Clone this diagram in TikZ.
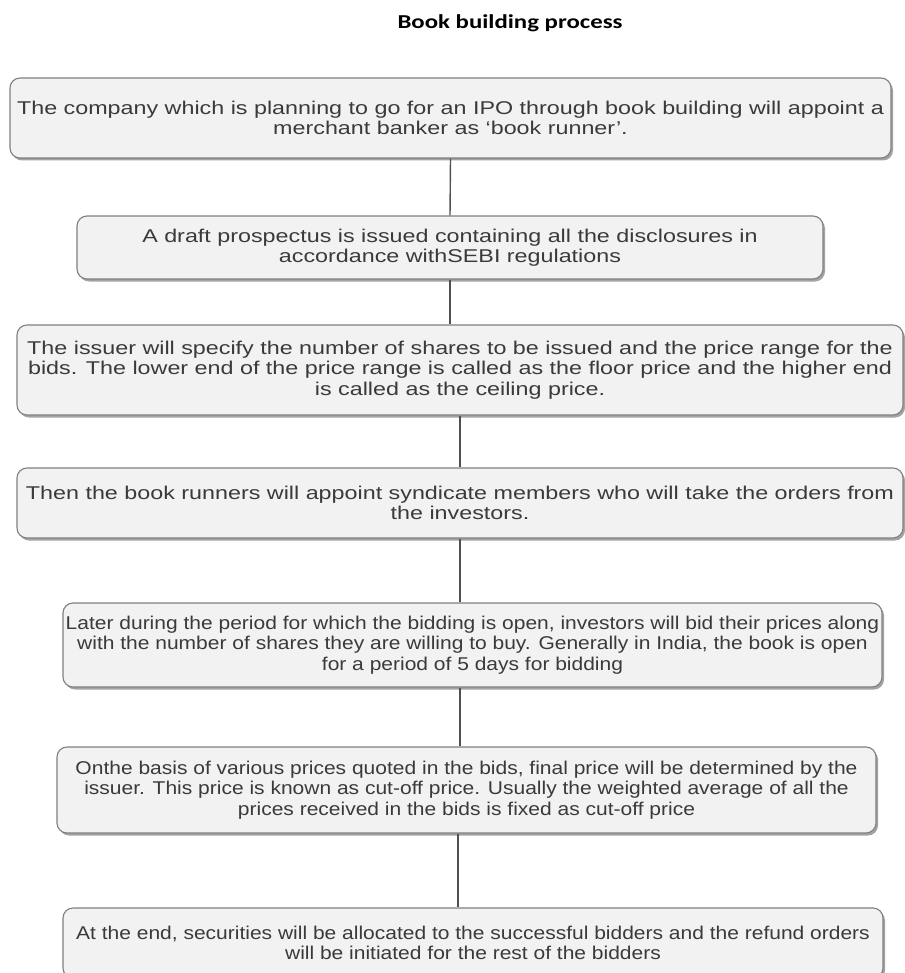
\documentclass[tikz,border=0pt]{standalone}
\usepackage{fontspec}
\setmainfont[FakeStretch=1.26]{Liberation Sans}
\newfontfamily\narrowfont[FakeStretch=1.135]{Liberation Sans}
\newfontfamily\titlefont[FakeStretch=1.26]{Carlito}
\usetikzlibrary{shadows}
\definecolor{boxfill}{HTML}{F2F2F2}
\definecolor{boxline}{HTML}{808080}
\definecolor{txt}{HTML}{3A3A3A}
\definecolor{conn}{HTML}{505050}
\tikzset{
  stepbox/.style={draw=boxline, line width=1.1pt, fill=boxfill, rounded corners=10pt,
    align=center, text=txt, inner sep=0pt,
    font=\fontsize{18.5}{20.5}\selectfont,
    drop shadow={shadow xshift=2pt, shadow yshift=-2.5pt, fill=black!45, opacity=0.8}},
  narrowbox/.style={stepbox, font=\narrowfont\fontsize{18.5}{20.5}\selectfont},
  link/.style={draw=conn, line width=1.4pt}
}
\begin{document}
\begin{tikzpicture}[x=1pt,y=-1pt]
\useasboundingbox[fill=white] (0,0) rectangle (904,973);
\node[font=\titlefont\bfseries\fontsize{19.7}{22}\selectfont, text=black] (title) at (510,23) {Book building process};
\node[stepbox, minimum width=881pt, minimum height=80pt] (b1) at (450.5,118)
  {The company which is planning to go for an IPO through book building will appoint a\\merchant banker as ‘book runner’.};
\node[stepbox, minimum width=746pt, minimum height=63pt] (b2) at (450,247.5)
  {A draft prospectus is issued containing all the disclosures in\\accordance withSEBI regulations};
\node[stepbox, minimum width=886pt, minimum height=90pt] (b3) at (460,370)
  {The issuer will specify the number of shares to be issued and the price range for the\\bids. The lower end of the price range is called as the floor price and the higher end\\is called as the ceiling price.};
\node[stepbox, minimum width=886pt, minimum height=70pt] (b4) at (460,503)
  {Then the book runners will appoint syndicate members who will take the orders from\\the investors.};
\node[narrowbox, minimum width=819pt, minimum height=84pt] (b5) at (472.5,645)
  {Later during the period for which the bidding is open, investors will bid their prices along\\with the number of shares they are willing to buy. Generally in India, the book is open\\for a period of 5 days for bidding};
\node[narrowbox, minimum width=819pt, minimum height=86pt] (b6) at (466.5,790)
  {Onthe basis of various prices quoted in the bids, final price will be determined by the\\issuer. This price is known as cut-off price. Usually the weighted average of all the\\prices received in the bids is fixed as cut-off price};
\node[narrowbox, minimum width=820pt, minimum height=70pt] (b7) at (473,943)
  {At the end, securities will be allocated to the successful bidders and the refund orders\\will be initiated for the rest of the bidders};
\coordinate (xa) at (460,0);
\coordinate (xb) at (458,0);
\draw[link] (b1.south) -- (b2.north);
\draw[link] (b2.south) -- (b2.south |- b3.north);
\draw[link] (b3.south) -- (b4.north);
\draw[link] (b4.south) -- (b4.south |- b5.north);
\draw[link] (b5.south -| xa) -- (b6.north -| xa);
\draw[link] (b6.south -| xb) -- (b7.north -| xb);
\end{tikzpicture}
\end{document}
